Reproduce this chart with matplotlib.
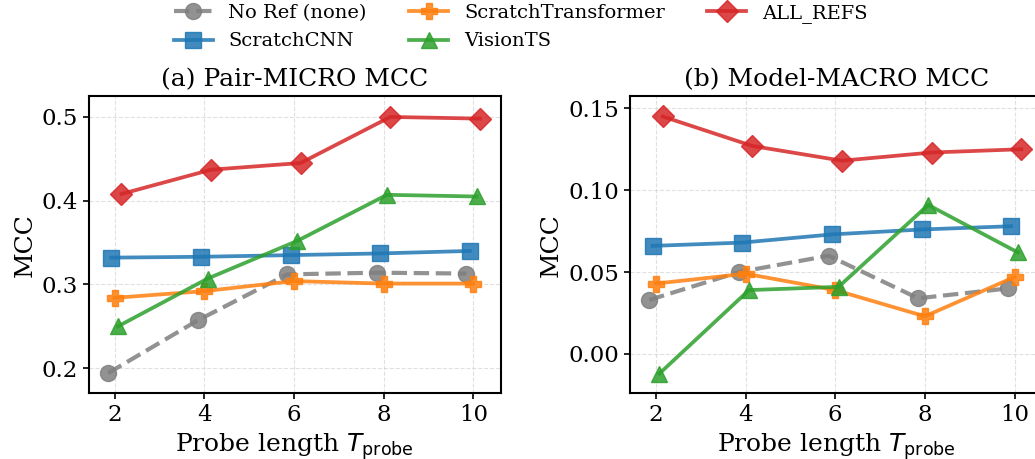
import matplotlib
matplotlib.use("Agg")
import matplotlib.pyplot as plt
import numpy as np

plt.rcParams['font.family'] = 'DejaVu Serif'
plt.rcParams['mathtext.fontset'] = 'dejavusans'

T_probe = [2, 4, 6, 8, 10]
series_names = ["No Ref (none)", "ScratchCNN", "ScratchTransformer", "VisionTS", "ALL_REFS"]

micro_noref = [0.194, 0.257, 0.312, 0.314, 0.313]
micro_cnn = [0.332, 0.333, 0.335, 0.337, 0.340]
micro_trans = [0.284, 0.292, 0.304, 0.301, 0.301]
micro_vision = [0.250, 0.307, 0.352, 0.407, 0.405]
micro_all = [0.408, 0.437, 0.445, 0.500, 0.498]

macro_noref = [0.033, 0.050, 0.060, 0.034, 0.040]
macro_cnn = [0.066, 0.068, 0.073, 0.076, 0.078]
macro_trans = [0.043, 0.049, 0.039, 0.023, 0.047]
macro_vision = [-0.012, 0.039, 0.041, 0.091, 0.062]
macro_all = [0.145, 0.127, 0.118, 0.123, 0.125]

colors = ["#7f7f7f", "#1f77b4", "#ff7f0e", "#2ca02c", "#d62728"]
markers = ["o", "s", "P", "^", "D"]
styles = ["--", "-", "-", "-", "-"]
widths = [3.0, 2.7, 2.7, 2.7, 2.7]
offsets = [-0.15, -0.075, 0.0, 0.075, 0.15]

fig = plt.figure(figsize=(10.35, 4.59), dpi=100)
ax1 = fig.add_axes([88.7/1035, 1-393.3/459, 412.3/1035, 297.3/459])
ax2 = fig.add_axes([630/1035, 1-393.3/459, 412.3/1035, 297.3/459])

panels = [
    (ax1, [micro_noref, micro_cnn, micro_trans, micro_vision, micro_all], "(a) Pair-MICRO MCC", (0.170, 0.525), [0.2, 0.3, 0.4, 0.5], "{:.1f}"),
    (ax2, [macro_noref, macro_cnn, macro_trans, macro_vision, macro_all], "(b) Model-MACRO MCC", (-0.024, 0.1575), [0.0, 0.05, 0.10, 0.15], "{:.2f}"),
]

x = np.array(T_probe, dtype=float)
for ax, data, title, ylim, yt, fmt in panels:
    for i, vals in enumerate(data):
        ax.plot(x + offsets[i], vals, linestyle=styles[i], color=colors[i], marker=markers[i],
                markersize=11.5, linewidth=widths[i], alpha=0.85, label=series_names[i])
    ax.set_title(title, fontsize=18, pad=7)
    ax.set_xlabel(r"Probe length $T_{\mathrm{probe}}$", fontsize=18, labelpad=4)
    ax.set_ylabel("MCC", fontsize=18)
    ax.set_xticks(T_probe)
    ax.set_yticks(yt)
    ax.set_yticklabels([fmt.format(v) for v in yt])
    ax.set_ylim(*ylim)
    ax.set_xlim(1.42, 10.62)
    ax.tick_params(labelsize=16.5, width=1.2, length=4)
    ax.grid(True, linestyle="--", color="#cccccc", alpha=0.6, linewidth=0.8)
    for sp in ax.spines.values():
        sp.set_linewidth(1.5)

handles, labels = ax1.get_legend_handles_labels()
fig.legend(handles, labels, loc="upper center", ncol=3, frameon=False, fontsize=14,
           bbox_to_anchor=(0.503, 1.03), handlelength=2.0, columnspacing=2.2, labelspacing=0.55)

fig.savefig("out.png", dpi=100)
